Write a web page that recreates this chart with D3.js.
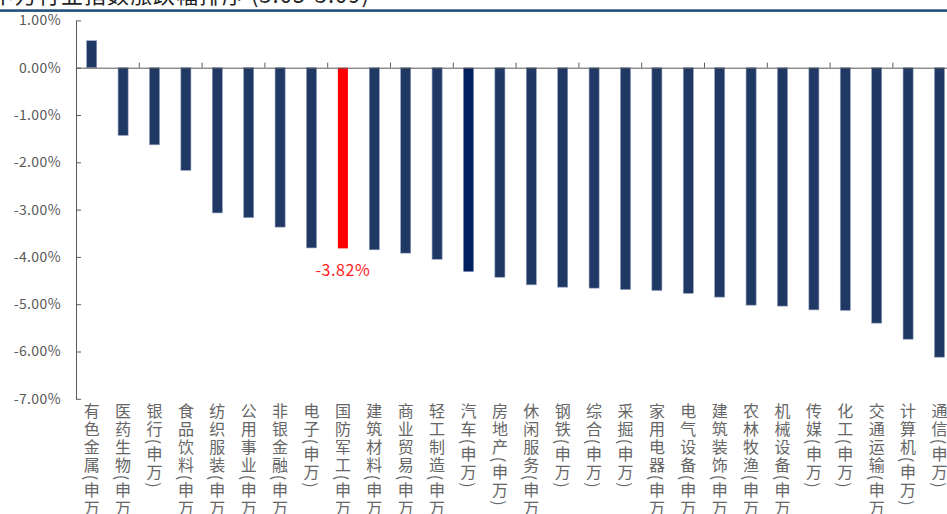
<!DOCTYPE html>
<html><head><meta charset="utf-8">
<script src="https://cdn.jsdelivr.net/npm/d3@7"></script>
<style>
body{margin:0;background:#fff;overflow:hidden}
text{font-family:"Noto Sans CJK SC","Noto Sans",sans-serif}
</style>
</head><body>
<svg id="c" width="947" height="514"></svg>
<script>
const titleText = "申万行业指数涨跌幅排序 (3.05-3.09)";
const categories = ["有色金属(申万)","医药生物(申万)","银行(申万)","食品饮料(申万)","纺织服装(申万)","公用事业(申万)","非银金融(申万)","电子(申万)","国防军工(申万)","建筑材料(申万)","商业贸易(申万)","轻工制造(申万)","汽车(申万)","房地产(申万)","休闲服务(申万)","钢铁(申万)","综合(申万)","采掘(申万)","家用电器(申万)","电气设备(申万)","建筑装饰(申万)","农林牧渔(申万)","机械设备(申万)","传媒(申万)","化工(申万)","交通运输(申万)","计算机(申万)","通信(申万)"];
const values = [0.57,-1.43,-1.63,-2.17,-3.07,-3.17,-3.37,-3.81,-3.82,-3.85,-3.92,-4.05,-4.31,-4.43,-4.59,-4.64,-4.66,-4.69,-4.71,-4.77,-4.85,-5.02,-5.04,-5.12,-5.13,-5.40,-5.74,-6.12];
const yTicks = [1,0,-1,-2,-3,-4,-5,-6,-7];
const yTickLabels = ["1.00%","0.00%","-1.00%","-2.00%","-3.00%","-4.00%","-5.00%","-6.00%","-7.00%"];
const highlightCategory = "国防军工(申万)";
const highlightLabel = "-3.82%";
const darkCategory = "汽车(申万)";

const svg = d3.select("#c");
const left = 76, step = 31.4;
const x = d3.scaleBand().domain(categories)
  .range([left, left + categories.length*step]).paddingInner(0.68).paddingOuter(0.34);
const y = d3.scaleLinear().domain([-7, 1]).range([398.8, 20.4]);

// title (cut off at top) and rule
svg.append("text").attr("x", -8).attr("y", 3).attr("font-size", 22).attr("fill", "#222")
  .style("letter-spacing", "1px").text(titleText);
svg.append("rect").attr("x", 0).attr("y", 9.3).attr("width", 947).attr("height", 2.6).attr("fill", "#24507c");

// bars
svg.append("g").selectAll("rect").data(categories).join("rect")
  .attr("x", d => x(d))
  .attr("width", x.bandwidth())
  .attr("y", (d,i) => y(Math.max(0, values[i])))
  .attr("height", (d,i) => Math.abs(y(values[i]) - y(0)))
  .attr("fill", d => d === highlightCategory ? "#ff0000" : d === darkCategory ? "#002060" : "#1f3864")
  .attr("stroke", d => (d === highlightCategory || d === darkCategory) ? "none" : "#8d9cb8")
  .attr("stroke-width", 0.6);

// y axis
const yAxis = svg.append("g").attr("transform", `translate(${left},0)`)
  .call(d3.axisLeft(y).tickValues(yTicks).tickSizeInner(-5).tickSizeOuter(0).tickPadding(15)
    .tickFormat((d,i) => yTickLabels[i]));
yAxis.select(".domain").attr("stroke", "#595959");
yAxis.selectAll(".tick line").attr("stroke", "#595959");
yAxis.selectAll("text").attr("font-size", 14).attr("fill", "#595959")
  .attr("font-family", '"Noto Sans CJK SC", sans-serif').style("letter-spacing", "0.4px");

// zero category axis with ticks every 2 categories
const xb = d3.scaleLinear().domain([0, categories.length]).range([left, left + categories.length*step]);
const xAxis = svg.append("g").attr("transform", `translate(0,${y(0)})`)
  .call(d3.axisBottom(xb).tickValues(d3.range(0, categories.length + 1, 2)).tickSizeInner(-5).tickSizeOuter(0).tickFormat(""));
xAxis.select(".domain").attr("stroke", "#595959");
xAxis.selectAll(".tick line").attr("stroke", "#595959");

// category labels (vertical)
const labAxis = svg.append("g").attr("transform", `translate(0,${y(-7)})`)
  .call(d3.axisBottom(x).tickSize(0).tickPadding(0));
labAxis.select(".domain").remove();
labAxis.selectAll("text")
  .attr("y", 4).attr("dy", null)
  .attr("text-anchor", "start")
  .attr("font-size", 16).attr("fill", "#666")
  .attr("font-family", '"Noto Sans CJK SC", sans-serif')
  .style("letter-spacing", "2px")
  .style("writing-mode", "vertical-rl");

// annotation
const hi = categories.indexOf(highlightCategory);
svg.append("text")
  .attr("x", x(highlightCategory) + x.bandwidth()/2)
  .attr("y", y(values[hi]) + 28)
  .attr("text-anchor", "middle").attr("font-size", 16).attr("fill", "#ff2020")
  .style("letter-spacing", "0.6px")
  .text(highlightLabel);
</script>
</body></html>
